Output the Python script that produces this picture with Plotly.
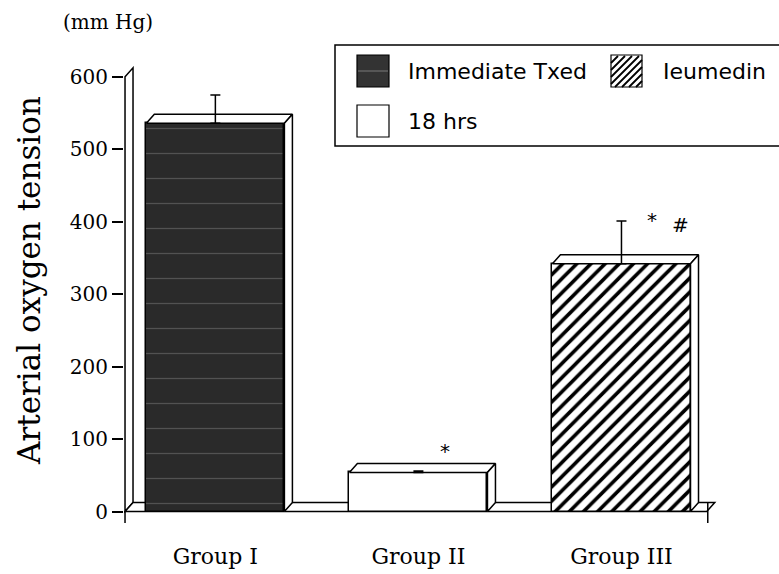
import plotly.graph_objects as go

# ---------------- data ----------------
groups = ["Group I", "Group II", "Group III"]
series_names = ["Immediate Txed", "18 hrs", "Ieumedin"]
values = [536, 54, 342]          # mm Hg
errors = [39, 2, 59]             # upper error (SD)
y_ticks = [0, 100, 200, 300, 400, 500, 600]
sig_group = [1, 2, 2]            # group index carrying a significance mark
sig_text = ["*", "*", "#"]

# ---------------- layout geometry ----------------
W, H = 779, 574
ML, MR, MT, MB = 124, 56, 66, 48
PW, PH = W - ML - MR, H - MT - MB
XR = [-0.45, 2.5]
YR = [-20, 615]
ux = PW / (XR[1] - XR[0])        # px per x unit
uy = PH / (YR[1] - YR[0])        # px per y unit
DX = 8 / ux                      # 3-D depth (x units)
DY = 9 / uy                      # 3-D depth (y units)
BW = 0.68                        # bar width
X0 = -0.445                      # wall front edge
XE = 2.42                        # floor right end


def px(x):
    return (x - ML) / PW


def py(y):
    return (H - MB - y) / PH


fills = [
    dict(color="#2c2c2c",
         pattern=dict(shape="-", fgcolor="#7a7a7a", bgcolor="#2a2a2a",
                      size=25, solidity=0.05)),
    dict(color="white"),
    dict(color="white",
         pattern=dict(shape="/", fgcolor="black", bgcolor="white",
                      fgopacity=1, fillmode="replace",
                      size=10, solidity=0.36)),
]

fig = go.Figure()

xs = list(range(len(groups)))

# front faces of bars
for i, g in enumerate(groups):
    fig.add_trace(go.Bar(
        x=[xs[i]], y=[values[i]], width=BW, name=series_names[i],
        marker=dict(line=dict(color="black", width=1.5), **fills[i]),
        showlegend=False, hoverinfo="skip"))

# top and side faces of bars (3-D effect)
for i, v in enumerate(values):
    c = xs[i]
    l, r = c - BW / 2, c + BW / 2
    top_x = [l, l + DX, r + DX, r, l]
    top_y = [v, v + DY, v + DY, v, v]
    side_x = [r, r + DX, r + DX, r, r]
    side_y = [0, DY, v + DY, v, 0]
    for fx, fy in ((top_x, top_y), (side_x, side_y)):
        fig.add_trace(go.Scatter(
            x=fx, y=fy, mode="lines", fill="toself", fillcolor="white",
            line=dict(color="black", width=1.5), showlegend=False,
            hoverinfo="skip"))

# error bars (upper only)
fig.add_trace(go.Scatter(
    x=xs, y=values, mode="markers", marker=dict(size=1, color="rgba(0,0,0,0)"),
    error_y=dict(type="data", symmetric=False, array=errors,
                 arrayminus=[0] * len(errors), color="black",
                 thickness=1.5, width=5),
    showlegend=False, hoverinfo="skip"))

shapes = []
# back wall and floor
shapes.append(dict(type="path", xref="x", yref="y", layer="below",
                   path=f"M{X0},0 L{X0},600 L{X0 + DX},{600 + DY} L{X0 + DX},{DY} Z",
                   fillcolor="white", line=dict(color="black", width=1.5)))
shapes.append(dict(type="path", xref="x", yref="y", layer="below",
                   path=f"M{X0},0 L{XE},0 L{XE + DX},{DY} L{X0 + DX},{DY} Z",
                   fillcolor="white", line=dict(color="black", width=1.5)))
# axis end ticks
shapes.append(dict(type="line", xref="x", yref="y", layer="below",
                   x0=X0, x1=X0, y0=0, y1=-16, line=dict(color="black", width=1.5)))
shapes.append(dict(type="line", xref="x", yref="y", layer="below",
                   x0=XE + 0.005, x1=XE + 0.005, y0=DY, y1=-16,
                   line=dict(color="black", width=1.5)))

# legend box
shapes.append(dict(type="rect", xref="paper", yref="paper",
                   x0=px(335), x1=px(782), y0=py(146), y1=py(45),
                   line=dict(color="black", width=1.5), fillcolor="white"))
# legend swatches
shapes.append(dict(type="rect", xref="paper", yref="paper",
                   x0=px(357), x1=px(389), y0=py(87), y1=py(55),
                   line=dict(color="black", width=1.2), fillcolor="#333333"))
shapes.append(dict(type="line", xref="paper", yref="paper",
                   x0=px(358), x1=px(388), y0=py(71), y1=py(71),
                   line=dict(color="#7a7a7a", width=1)))
shapes.append(dict(type="rect", xref="paper", yref="paper",
                   x0=px(357), x1=px(389), y0=py(137), y1=py(105),
                   line=dict(color="black", width=1.2), fillcolor="white"))
# hatched swatch
hl, hr, ht, hb = 611, 642, 55, 87
hs = hr - hl
segs = []
t = hl - hs
while t < hr:
    s0 = max(0, hl - t)
    s1 = min(hs, hr - t)
    if s1 > s0:
        segs.append(f"M{px(t + s0)},{py(hb - s0)} L{px(t + s1)},{py(hb - s1)}")
    t += 7
shapes.append(dict(type="path", xref="paper", yref="paper", path=" ".join(segs),
                   line=dict(color="black", width=1.8)))
shapes.append(dict(type="rect", xref="paper", yref="paper",
                   x0=px(hl), x1=px(hr), y0=py(hb), y1=py(ht),
                   line=dict(color="black", width=1.2)))

annotations = []
leg_font = dict(family="DejaVu Sans", size=22, color="black")
for txt, lx, ly in ((series_names[0], 406, 71), (series_names[2], 661, 71),
                    (series_names[1], 406, 122)):
    annotations.append(dict(text=txt, xref="paper", yref="paper", x=px(lx), y=py(ly),
                            xanchor="left", yanchor="middle", showarrow=False,
                            font=leg_font))

# significance marks
sig_dx = [0.13, 0.15, 0.29]
sig_dy = [28, 1, -5]
for k, gi in enumerate(sig_group):
    annotations.append(dict(text=sig_text[k], x=xs[gi] + sig_dx[k],
                            y=values[gi] + errors[gi] + sig_dy[k],
                            xref="x", yref="y", showarrow=False,
                            xanchor="center", yanchor="middle",
                            font=dict(family="DejaVu Sans", size=20, color="black")))

annotations.append(dict(text="(mm Hg)", xref="paper", yref="paper",
                        x=px(108), y=py(22), showarrow=False,
                        xanchor="center", yanchor="middle",
                        font=dict(family="DejaVu Serif", size=20, color="black")))
annotations.append(dict(text="Arterial oxygen tension", xref="paper", yref="paper",
                        x=px(29), y=py(281), showarrow=False, textangle=-90,
                        xanchor="center", yanchor="middle",
                        font=dict(family="DejaVu Serif", size=31, color="black")))

fig.update_layout(
    width=W, height=H,
    margin=dict(l=ML, r=MR, t=MT, b=MB, autoexpand=False),
    paper_bgcolor="white", plot_bgcolor="white",
    bargap=0, showlegend=False,
    shapes=shapes, annotations=annotations,
    xaxis=dict(range=XR, tickvals=xs, ticktext=groups, showgrid=False,
               zeroline=False, showline=False, ticks="", automargin=False,
               ticklabelstandoff=15,
               tickfont=dict(family="DejaVu Serif", size=22, color="black")),
    yaxis=dict(range=YR, tickvals=y_ticks, showgrid=False, zeroline=False,
               showline=False, ticks="outside", ticklen=11, tickwidth=1.5,
               tickcolor="black", automargin=False,
               tickfont=dict(family="DejaVu Serif", size=20, color="black")),
)

fig.write_html("out.html")
